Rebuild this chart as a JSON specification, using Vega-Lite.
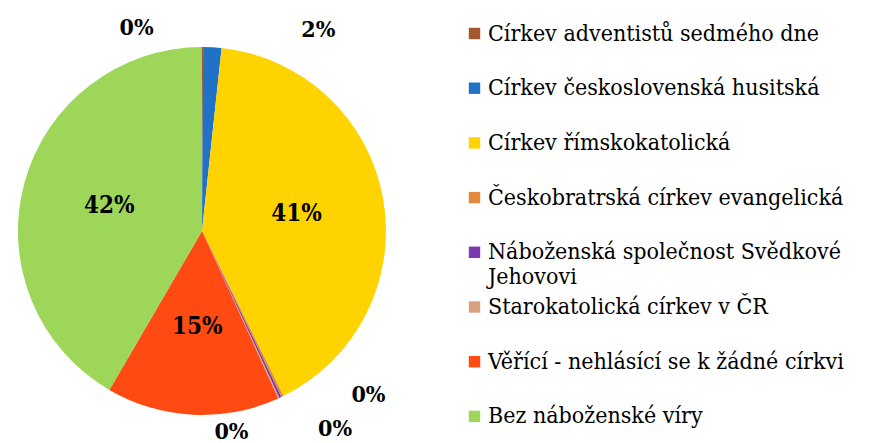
{
  "$schema": "https://vega.github.io/schema/vega-lite/v6.json",
  "width": 404,
  "height": 442,
  "autosize": {"type": "none"},
  "padding": {"top": 10, "left": 0, "right": 482, "bottom": 0},
  "background": "white",
  "config": {"view": {"stroke": null}, "font": "DejaVu Serif Condensed"},
  "data": {
    "values": [
      {"cirkev": "Církev adventistů sedmého dne", "podil": 0.001, "i": 1},
      {"cirkev": "Církev československá husitská", "podil": 0.016, "i": 2},
      {"cirkev": "Církev římskokatolická", "podil": 0.410, "i": 3},
      {"cirkev": "Českobratrská církev evangelická", "podil": 0.002, "i": 4},
      {"cirkev": "Náboženská společnost Svědkové Jehovovi", "podil": 0.002, "i": 5},
      {"cirkev": "Starokatolická církev v ČR", "podil": 0.001, "i": 6},
      {"cirkev": "Věřící - nehlásící se k žádné církvi", "podil": 0.152, "i": 7},
      {"cirkev": "Bez náboženské víry", "podil": 0.416, "i": 8}
    ]
  },
  "encoding": {
    "theta": {"field": "podil", "type": "quantitative", "stack": true},
    "order": {"field": "i", "type": "quantitative"}
  },
  "layer": [
    {
      "mark": {"type": "arc", "outerRadius": 184},
      "encoding": {
        "color": {
          "field": "cirkev",
          "type": "nominal",
          "sort": null,
          "scale": {
            "domain": ["Církev adventistů sedmého dne", "Církev československá husitská", "Církev římskokatolická", "Českobratrská církev evangelická", "Náboženská společnost Svědkové Jehovovi", "Starokatolická církev v ČR", "Věřící - nehlásící se k žádné církvi", "Bez náboženské víry"],
            "range": ["#A5562A", "#1F72C6", "#FFD300", "#E4893A", "#7A3BB0", "#D9A07C", "#FF4A12", "#9ED65A"]
          },
          "legend": {
            "title": null,
            "orient": "none",
            "legendX": 463,
            "legendY": 12,
            "symbolType": "square",
            "symbolSize": 130,
            "symbolStrokeWidth": 0,
            "labelFont": "DejaVu Serif Condensed",
            "labelFontSize": 23,
            "labelColor": "#000000",
            "labelLimit": 500,
            "labelOffset": 2,
            "rowPadding": 5.7,
            "labelExpr": "datum.label == 'Náboženská společnost Svědkové Jehovovi' ? ['Náboženská společnost Svědkové', 'Jehovovi'] : [datum.label, ' ']"
          }
        }
      }
    },
    {
      "mark": {"type": "text", "font": "DejaVu Serif Condensed", "fontWeight": "bold", "fontSize": 24, "color": "#000000"},
      "encoding": {
        "radius": {
          "condition": [
            {"test": "datum.cirkev == 'Bez náboženské víry'", "value": 80},
            {"test": "datum.cirkev == 'Věřící - nehlásící se k žádné církvi'", "value": 106}
          ],
          "value": 96
        },
        "text": {"condition": {"test": "datum.podil >= 0.1", "field": "podil", "format": ".0%"}, "value": ""}
      }
    },
    {
      "mark": {"type": "text", "font": "DejaVu Serif Condensed", "fontWeight": "bold", "fontSize": 23, "color": "#000000", "radius": 200, "dx": -66, "dy": -3},
      "encoding": {"text": {"condition": {"test": "datum.i == 1", "field": "podil", "format": ".0%"}, "value": ""}}
    },
    {
      "mark": {"type": "text", "font": "DejaVu Serif Condensed", "fontWeight": "bold", "fontSize": 23, "color": "#000000", "radius": 200, "dx": 105, "dy": -1},
      "encoding": {"text": {"condition": {"test": "datum.i == 2", "field": "podil", "format": ".0%"}, "value": ""}}
    },
    {
      "mark": {"type": "text", "font": "DejaVu Serif Condensed", "fontWeight": "bold", "fontSize": 23, "color": "#000000", "radius": 200, "dx": 79, "dy": -16},
      "encoding": {"text": {"condition": {"test": "datum.i == 4", "field": "podil", "format": ".0%"}, "value": ""}}
    },
    {
      "mark": {"type": "text", "font": "DejaVu Serif Condensed", "fontWeight": "bold", "fontSize": 23, "color": "#000000", "radius": 200, "dx": 48, "dy": 17},
      "encoding": {"text": {"condition": {"test": "datum.i == 5", "field": "podil", "format": ".0%"}, "value": ""}}
    },
    {
      "mark": {"type": "text", "font": "DejaVu Serif Condensed", "fontWeight": "bold", "fontSize": 23, "color": "#000000", "radius": 200, "dx": -54, "dy": 19},
      "encoding": {"text": {"condition": {"test": "datum.i == 6", "field": "podil", "format": ".0%"}, "value": ""}}
    }
  ]
}
